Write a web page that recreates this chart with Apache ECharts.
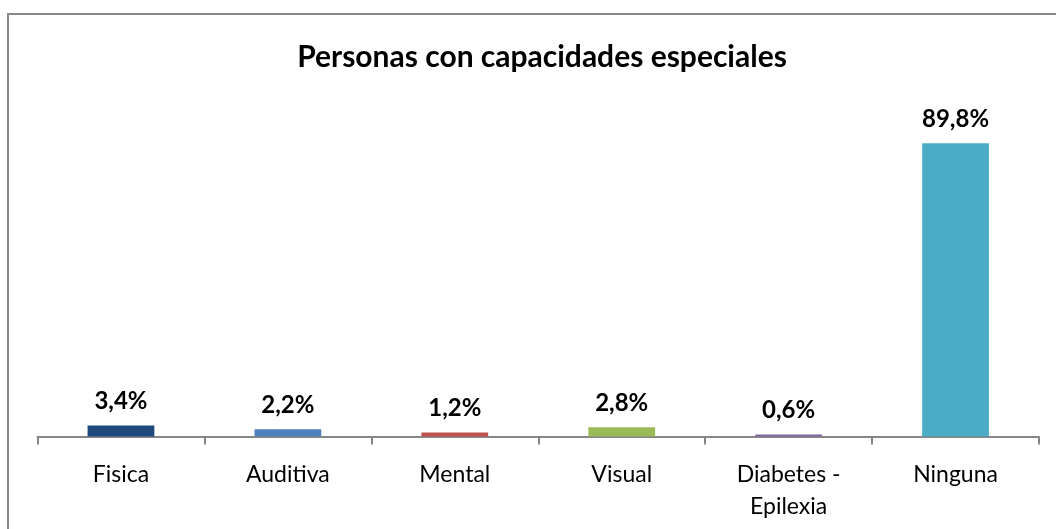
<!DOCTYPE html>
<html>
<head>
<meta charset="utf-8">
<script src="https://cdn.jsdelivr.net/npm/echarts@6/dist/echarts.min.js"></script>
<style>
	html, body { margin: 0; padding: 0; background: #fff; }
	#chart { width: 1056px; height: 529px; }
</style>
</head>
<body>
<div id="chart"></div>
<script>
// datos del grafico
const categories = ["Fisica", "Auditiva", "Mental", "Visual", "Diabetes -\nEpilexia", "Ninguna"];
const values = [3.4, 2.2, 1.2, 2.8, 0.6, 89.8];
const barColors = ["#1F497D", "#4F81BD", "#C0504D", "#9BBB59", "#8064A2", "#4BACC6"];

const chart = echarts.init(document.getElementById("chart"));
const font = "Lato";

const option = {
	animation: false,
	title: {
		text: "Personas con capacidades especiales",
		left: 537,
		top: 37,
		textAlign: "center",
		textStyle: {
			fontFamily: font,
			fontSize: 30,
			fontWeight: "bold",
			color: "#000",
		},
	},
	graphic: [
		{
			// borde del area del grafico
			type: "rect",
			shape: { x: 8, y: 14, width: 1200, height: 700 },
			style: { fill: "none", stroke: "#8a8a8a", lineWidth: 2 },
			silent: true,
		},
	],
	grid: {
		left: 37.5,
		right: 17,
		top: 110,
		bottom: 92.5,
	},
	xAxis: {
		type: "category",
		data: categories,
		axisLine: { lineStyle: { color: "#868686", width: 2 } },
		axisTick: { show: true, length: 8, lineStyle: { color: "#868686", width: 2 } },
		axisLabel: {
			margin: 22,
			fontFamily: font,
			fontSize: 23,
			color: "#000",
			lineHeight: 32,
			interval: 0,
		},
	},
	yAxis: {
		type: "value",
		min: 0,
		max: 100,
		show: false,
		splitLine: { show: false },
	},
	series: [
		{
			type: "bar",
			barWidth: "40%",
			data: values.map((v, i) => ({ value: v, itemStyle: { color: barColors[i] } })),
			label: {
				show: true,
				position: "top",
				distance: 12,
				fontFamily: font,
				fontSize: 24,
				fontWeight: "bold",
				color: "#000",
				formatter: (p) => p.value.toFixed(1).replace(".", ",") + "%",
			},
		},
	],
};
chart.setOption(option);
</script>
</body>
</html>
